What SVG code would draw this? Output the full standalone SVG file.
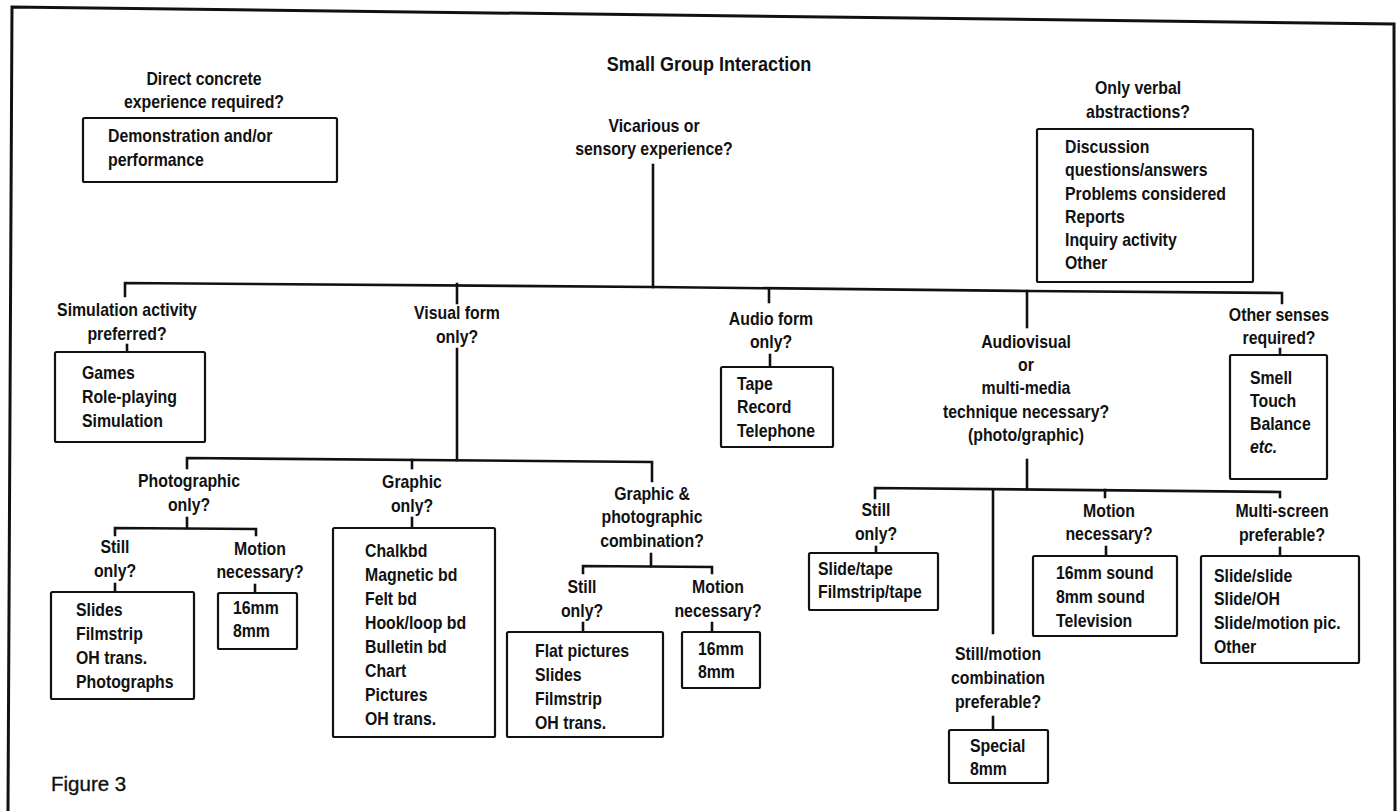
<svg xmlns="http://www.w3.org/2000/svg" width="1398" height="811" viewBox="0 0 1398 811">
  <style>
    .t { font-family: "Liberation Sans", Arial, sans-serif; font-weight: bold; font-size: 18px; fill: #111; }
    .c { text-anchor: middle; }
    .title { font-size: 20.5px; }
    .cap { font-family: "Liberation Sans", Arial, sans-serif; font-size: 20.5px; fill: #111; stroke: #111; stroke-width: 0.35; }
    .box { fill: #fff; stroke: #111; stroke-width: 2.2; }
    .ln { fill: none; stroke: #111; stroke-width: 2.6; stroke-linecap: square; }
    .frame { fill: none; stroke: #111; stroke-width: 3; }
  </style>
  <rect width="1398" height="811" fill="#fff"/>

  <!-- page frame -->
  <path class="frame" d="M 8 811 L 12 7 L 1394 24 L 1395 811"/>

  <!-- connectors -->
  <g id="connectors">
    <path class="ln" d="M 653 165 V 287"/>
    <path class="ln" d="M 125 296 V 283 L 653 287 L 1027 291 L 1282 293 V 303"/>
    <path class="ln" d="M 457 284 V 303"/>
    <path class="ln" d="M 769 289 V 302"/>
    <path class="ln" d="M 1027 291 V 327"/>
    <path class="ln" d="M 127 345 V 352"/>
    <path class="ln" d="M 770 355 V 367"/>
    <path class="ln" d="M 1280 349 V 355"/>
    <path class="ln" d="M 457 349 V 460"/>
    <path class="ln" d="M 187 468 V 458 L 652 462 V 481"/>
    <path class="ln" d="M 412 460 V 468"/>
    <path class="ln" d="M 187 518 V 528"/>
    <path class="ln" d="M 115 535 V 528 L 256 529 V 535"/>
    <path class="ln" d="M 115 584 V 592"/>
    <path class="ln" d="M 255 585 V 593"/>
    <path class="ln" d="M 412 518 V 528"/>
    <path class="ln" d="M 651 554 V 566"/>
    <path class="ln" d="M 583 573 V 566 L 712 567 V 573"/>
    <path class="ln" d="M 583 623 V 632"/>
    <path class="ln" d="M 712 623 V 632"/>
    <path class="ln" d="M 1027 460 V 489"/>
    <path class="ln" d="M 875 498 V 488 L 1280 492 V 497"/>
    <path class="ln" d="M 993 490 V 633"/>
    <path class="ln" d="M 1105 490 V 497"/>
    <path class="ln" d="M 876 547 V 553"/>
    <path class="ln" d="M 1106 547 V 556"/>
    <path class="ln" d="M 1280 548 V 557"/>
    <path class="ln" d="M 993 717 V 730"/>
  </g>

  <g id="title">
    <text class="t c title" transform="translate(709,71) scale(0.88,1)">Small Group Interaction</text>
  </g>

  <g id="direct">
    <text class="t c" transform="translate(204,85) scale(0.88,1)"><tspan x="0" y="0">Direct concrete</tspan><tspan x="0" y="23">experience required?</tspan></text>
    <rect class="box" x="83" y="118" width="254" height="64" rx="1.5"/>
    <text class="t" transform="translate(108,142) scale(0.88,1)"><tspan x="0" y="0">Demonstration and/or</tspan><tspan x="0" y="24">performance</tspan></text>
  </g>

  <g id="vicarious">
    <text class="t c" transform="translate(654,132) scale(0.88,1)"><tspan x="0" y="0">Vicarious or</tspan><tspan x="0" y="23">sensory experience?</tspan></text>
  </g>

  <g id="verbal">
    <text class="t c" transform="translate(1138,94) scale(0.88,1)"><tspan x="0" y="0">Only verbal</tspan><tspan x="0" y="24">abstractions?</tspan></text>
    <rect class="box" x="1037" y="129" width="216" height="153" rx="1.5"/>
    <text class="t" transform="translate(1065,153) scale(0.88,1)"><tspan x="0" y="0">Discussion</tspan><tspan x="0" y="23">questions/answers</tspan><tspan x="0" y="47">Problems considered</tspan><tspan x="0" y="70">Reports</tspan><tspan x="0" y="93">Inquiry activity</tspan><tspan x="0" y="116">Other</tspan></text>
  </g>

  <g id="simulation">
    <text class="t c" transform="translate(127,316) scale(0.88,1)"><tspan x="0" y="0">Simulation activity</tspan><tspan x="0" y="24">preferred?</tspan></text>
    <rect class="box" x="55" y="352" width="150" height="90" rx="1.5"/>
    <text class="t" transform="translate(82,379) scale(0.88,1)"><tspan x="0" y="0">Games</tspan><tspan x="0" y="24">Role-playing</tspan><tspan x="0" y="48">Simulation</tspan></text>
  </g>

  <g id="visual">
    <text class="t c" transform="translate(457,319) scale(0.88,1)"><tspan x="0" y="0">Visual form</tspan><tspan x="0" y="24">only?</tspan></text>
  </g>

  <g id="audio">
    <text class="t c" transform="translate(771,325) scale(0.88,1)"><tspan x="0" y="0">Audio form</tspan><tspan x="0" y="23">only?</tspan></text>
    <rect class="box" x="721" y="367" width="112" height="80" rx="1.5"/>
    <text class="t" transform="translate(737,390) scale(0.88,1)"><tspan x="0" y="0">Tape</tspan><tspan x="0" y="23">Record</tspan><tspan x="0" y="47">Telephone</tspan></text>
  </g>

  <g id="audiovisual">
    <text class="t c" transform="translate(1026,348) scale(0.88,1)"><tspan x="0" y="0">Audiovisual</tspan><tspan x="0" y="23">or</tspan><tspan x="0" y="46">multi-media</tspan><tspan x="0" y="70">technique necessary?</tspan><tspan x="0" y="93">(photo/graphic)</tspan></text>
  </g>

  <g id="senses">
    <text class="t c" transform="translate(1279,321) scale(0.88,1)"><tspan x="0" y="0">Other senses</tspan><tspan x="0" y="23">required?</tspan></text>
    <rect class="box" x="1230" y="355" width="97" height="124" rx="1.5"/>
    <text class="t" transform="translate(1250,384) scale(0.88,1)"><tspan x="0" y="0">Smell</tspan><tspan x="0" y="23">Touch</tspan><tspan x="0" y="46">Balance</tspan><tspan x="0" y="69" font-style="italic">etc.</tspan></text>
  </g>

  <g id="photographic">
    <text class="t c" transform="translate(189,487) scale(0.88,1)"><tspan x="0" y="0">Photographic</tspan><tspan x="0" y="24">only?</tspan></text>
  </g>

  <g id="photo-still">
    <text class="t c" transform="translate(115,553) scale(0.88,1)"><tspan x="0" y="0">Still</tspan><tspan x="0" y="24">only?</tspan></text>
    <rect class="box" x="51" y="592" width="143" height="107" rx="1.5"/>
    <text class="t" transform="translate(76,616) scale(0.88,1)"><tspan x="0" y="0">Slides</tspan><tspan x="0" y="24">Filmstrip</tspan><tspan x="0" y="48">OH trans.</tspan><tspan x="0" y="72">Photographs</tspan></text>
  </g>

  <g id="photo-motion">
    <text class="t c" transform="translate(260,555) scale(0.88,1)"><tspan x="0" y="0">Motion</tspan><tspan x="0" y="23">necessary?</tspan></text>
    <rect class="box" x="218" y="593" width="79" height="56" rx="1.5"/>
    <text class="t" transform="translate(233,614) scale(0.88,1)"><tspan x="0" y="0">16mm</tspan><tspan x="0" y="23">8mm</tspan></text>
  </g>

  <g id="graphic">
    <text class="t c" transform="translate(412,488) scale(0.88,1)"><tspan x="0" y="0">Graphic</tspan><tspan x="0" y="24">only?</tspan></text>
    <rect class="box" x="333" y="528" width="162" height="209" rx="1.5"/>
    <text class="t" transform="translate(365,557) scale(0.88,1)"><tspan x="0" y="0">Chalkbd</tspan><tspan x="0" y="24">Magnetic bd</tspan><tspan x="0" y="48">Felt bd</tspan><tspan x="0" y="72">Hook/loop bd</tspan><tspan x="0" y="96">Bulletin bd</tspan><tspan x="0" y="120">Chart</tspan><tspan x="0" y="144">Pictures</tspan><tspan x="0" y="168">OH trans.</tspan></text>
  </g>

  <g id="combination">
    <text class="t c" transform="translate(652,500) scale(0.88,1)"><tspan x="0" y="0">Graphic &amp;</tspan><tspan x="0" y="23">photographic</tspan><tspan x="0" y="47">combination?</tspan></text>
  </g>

  <g id="combo-still">
    <text class="t c" transform="translate(582,593) scale(0.88,1)"><tspan x="0" y="0">Still</tspan><tspan x="0" y="24">only?</tspan></text>
    <rect class="box" x="507" y="632" width="156" height="105" rx="1.5"/>
    <text class="t" transform="translate(535,657) scale(0.88,1)"><tspan x="0" y="0">Flat pictures</tspan><tspan x="0" y="24">Slides</tspan><tspan x="0" y="48">Filmstrip</tspan><tspan x="0" y="72">OH trans.</tspan></text>
  </g>

  <g id="combo-motion">
    <text class="t c" transform="translate(718,593) scale(0.88,1)"><tspan x="0" y="0">Motion</tspan><tspan x="0" y="24">necessary?</tspan></text>
    <rect class="box" x="682" y="632" width="78" height="56" rx="1.5"/>
    <text class="t" transform="translate(698,655) scale(0.88,1)"><tspan x="0" y="0">16mm</tspan><tspan x="0" y="23">8mm</tspan></text>
  </g>

  <g id="av-still">
    <text class="t c" transform="translate(876,516) scale(0.88,1)"><tspan x="0" y="0">Still</tspan><tspan x="0" y="24">only?</tspan></text>
    <rect class="box" x="809" y="553" width="129" height="57" rx="1.5"/>
    <text class="t" transform="translate(818,575) scale(0.88,1)"><tspan x="0" y="0">Slide/tape</tspan><tspan x="0" y="23">Filmstrip/tape</tspan></text>
  </g>

  <g id="still-motion">
    <text class="t c" transform="translate(998,660) scale(0.88,1)"><tspan x="0" y="0">Still/motion</tspan><tspan x="0" y="24">combination</tspan><tspan x="0" y="48">preferable?</tspan></text>
    <rect class="box" x="949" y="730" width="99" height="53" rx="1.5"/>
    <text class="t" transform="translate(970,752) scale(0.88,1)"><tspan x="0" y="0">Special</tspan><tspan x="0" y="23">8mm</tspan></text>
  </g>

  <g id="av-motion">
    <text class="t c" transform="translate(1109,517) scale(0.88,1)"><tspan x="0" y="0">Motion</tspan><tspan x="0" y="23">necessary?</tspan></text>
    <rect class="box" x="1033" y="556" width="144" height="80" rx="1.5"/>
    <text class="t" transform="translate(1056,579) scale(0.88,1)"><tspan x="0" y="0">16mm sound</tspan><tspan x="0" y="24">8mm sound</tspan><tspan x="0" y="48">Television</tspan></text>
  </g>

  <g id="multi-screen">
    <text class="t c" transform="translate(1282,517) scale(0.88,1)"><tspan x="0" y="0">Multi-screen</tspan><tspan x="0" y="24">preferable?</tspan></text>
    <rect class="box" x="1201" y="556" width="158" height="107" rx="1.5"/>
    <text class="t" transform="translate(1214,582) scale(0.88,1)"><tspan x="0" y="0">Slide/slide</tspan><tspan x="0" y="23">Slide/OH</tspan><tspan x="0" y="47">Slide/motion pic.</tspan><tspan x="0" y="71">Other</tspan></text>
  </g>

  <g id="caption">
    <text class="cap" x="51" y="791">Figure 3</text>
  </g>
</svg>
